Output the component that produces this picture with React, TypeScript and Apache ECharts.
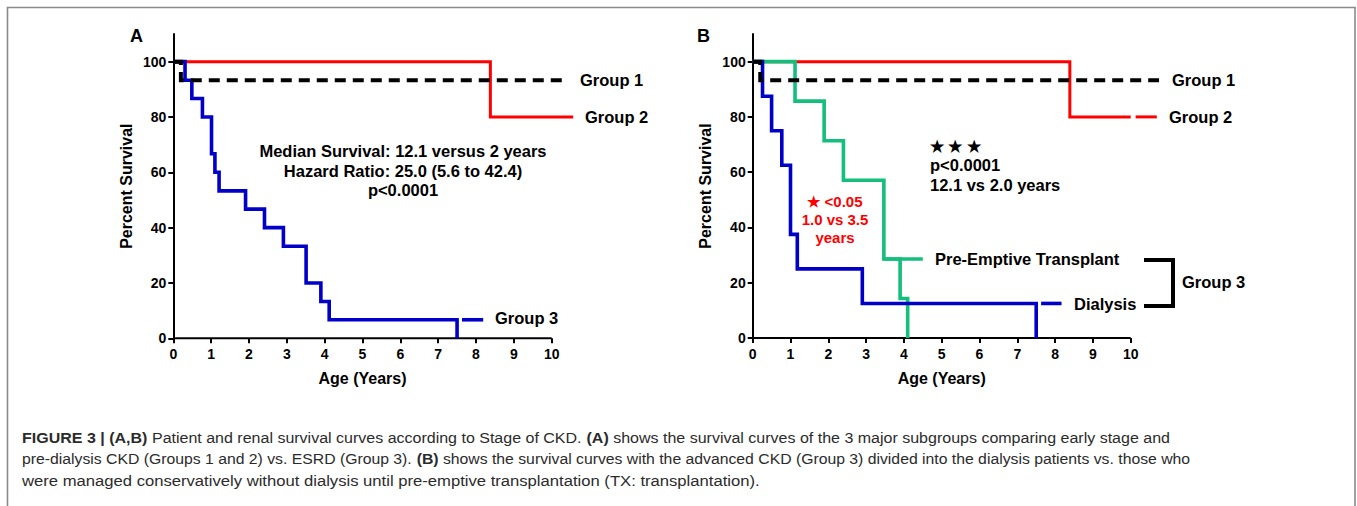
import React, { useEffect, useRef } from "react";
import * as echarts from "echarts";

// ---------- data ----------
const xTickValues = [0, 1, 2, 3, 4, 5, 6, 7, 8, 9, 10];
const yTickValues = [0, 20, 40, 60, 80, 100];
const xAxisExtent = [0, 10];

// Panel A
const aGroup1Times = [0, 0.2];
const aGroup1Surv = [100, 93.3];
const aGroup1End = 10.42;
const aGroup2Times = [0, 8.38];
const aGroup2Surv = [100, 80];
const aGroup2End = 10.57;
const aGroup3Times = [0, 0.31, 0.49, 0.77, 1.01, 1.1, 1.21, 1.91, 2.41, 2.91, 3.51, 3.9, 4.12, 7.5];
const aGroup3Surv = [100, 93.3, 86.7, 80, 66.7, 60, 53.3, 46.7, 40, 33.3, 20, 13.3, 6.7, 0];
const aGroup3Key = [7.63, 8.19];
const aGroup3KeyValue = 6.7;

// Panel B
const bGroup1Times = [0, 0.2];
const bGroup1Surv = [100, 93.3];
const bGroup1End = 10.75;
const bGroup2Times = [0, 8.39];
const bGroup2Surv = [100, 80];
const bGroup2End = 10.0;
const bGroup2Key = [10.13, 10.69];
const bDialysisTimes = [0, 0.26, 0.5, 0.77, 1.0, 1.18, 2.9, 7.5];
const bDialysisSurv = [100, 87.5, 75, 62.5, 37.5, 25, 12.5, 0];
const bDialysisKey = [7.63, 8.17];
const bDialysisKeyValue = 12.5;
const bTransplantTimes = [0, 1.12, 1.89, 2.4, 3.47, 3.9, 4.1];
const bTransplantSurv = [100, 85.7, 71.4, 57.1, 28.6, 14.3, 0];
const bTransplantKey = [3.47, 4.5];
const bTransplantKeyValue = 28.6;

// ---------- helpers ----------
function km(times: number[], surv: number[], end?: number) {
  const pts: number[][] = [[times[0], surv[0]]];
  for (let i = 1; i < times.length; i++) {
    pts.push([times[i], surv[i - 1]], [times[i], surv[i]]);
  }
  if (end != null) pts.push([end, surv[surv.length - 1]]);
  return pts;
}
function seg(range: number[], v: number) {
  return [[range[0], v], [range[1], v]];
}

const RED = "#ff0000";
const BLUE = "#0000c8";
const GREEN = "#14bf7c";
const BLACK = "#000000";
const FONT = "'Liberation Sans', Arial, Helvetica, sans-serif";

function line(idx: number, data: number[][], color: string, width: number, dashed = false, z = 2) {
  return {
    type: "line",
    xAxisIndex: idx,
    yAxisIndex: idx,
    data,
    symbol: "none",
    showSymbol: false,
    clip: false,
    z,
    silent: true,
    lineStyle: { color, width, type: dashed ? [11, 7] : "solid", cap: "butt", join: "miter" },
  };
}

function axesFor(idx: number) {
  const tick = { show: true, length: 5, inside: false, lineStyle: { color: BLACK, width: 2 } };
  return {
    x: {
      gridIndex: idx,
      type: "value",
      min: 0,
      max: 11,
      axisLine: { show: false },
      splitLine: { show: false },
      axisTick: { ...tick, customValues: xTickValues },
      axisLabel: {
        color: BLACK,
        fontFamily: FONT,
        fontWeight: "bold",
        fontSize: 14,
        margin: 9,
        customValues: xTickValues,
      },
    },
    y: {
      gridIndex: idx,
      type: "value",
      min: 0,
      max: 110,
      axisLine: { show: true, onZero: false, lineStyle: { color: BLACK, width: 2 } },
      splitLine: { show: false },
      name: "Percent Survival",
      nameLocation: "middle",
      nameGap: 39,
      nameTextStyle: { color: BLACK, fontFamily: FONT, fontWeight: "bold", fontSize: 16 },
      axisTick: { ...tick, customValues: yTickValues },
      axisLabel: {
        color: BLACK,
        fontFamily: FONT,
        fontWeight: "bold",
        fontSize: 14,
        margin: 7,
        customValues: yTickValues,
      },
    },
  };
}

function txt(x: number, y: number, text: string, opts: any = {}) {
  return {
    type: "text",
    x,
    y,
    silent: true,
    z: 10,
    style: {
      text,
      fill: opts.color || BLACK,
      fontFamily: FONT,
      fontWeight: opts.weight || "bold",
      fontSize: opts.size || 16.5,
      textAlign: opts.align || "left",
      textVerticalAlign: "middle",
    },
  };
}

export default function App() {
  const ref = useRef<HTMLDivElement>(null);
  useEffect(() => {
    if (!ref.current) return;
    const chart = echarts.init(ref.current, null, { renderer: "svg" });
    const A = axesFor(0);
    const B = axesFor(1);
    const CAP = "#2b2b2b";
    const captionRich = {
      b: { fontWeight: "bold", fontSize: 15, fontFamily: FONT, color: CAP },
    };
    const capStyle = (t: string, y: number, sx: number) => ({
      type: "text",
      x: 22,
      y,
      scaleX: sx,
      silent: true,
      style: {
        text: t,
        fill: CAP,
        fontFamily: FONT,
        fontWeight: "normal",
        fontSize: 15,
        textAlign: "left",
        textVerticalAlign: "middle",
        rich: captionRich,
      },
    });
    chart.setOption({
      animation: false,
      backgroundColor: "#ffffff",
      grid: [
        { left: 173.3, top: 34, width: 416.2, height: 304.3, containLabel: false },
        { left: 752.7, top: 34, width: 415.8, height: 304, containLabel: false },
      ],
      xAxis: [A.x, B.x],
      yAxis: [A.y, B.y],
      series: [
        // x axis lines (0..10)
        line(0, seg(xAxisExtent, 0), BLACK, 2, false, 1),
        line(1, seg(xAxisExtent, 0), BLACK, 2, false, 1),
        // Panel A
        line(0, km(aGroup2Times, aGroup2Surv, aGroup2End), RED, 3),
        line(0, km(aGroup3Times, aGroup3Surv), BLUE, 3.6),
        line(0, seg(aGroup3Key, aGroup3KeyValue), BLUE, 3.6),
        line(0, km(aGroup1Times, aGroup1Surv, aGroup1End), BLACK, 4, true, 3),
        // Panel B
        line(1, km(bGroup2Times, bGroup2Surv, bGroup2End), RED, 3),
        line(1, seg(bGroup2Key, 80), RED, 3),
        line(1, km(bTransplantTimes, bTransplantSurv), GREEN, 3.6),
        line(1, seg(bTransplantKey, bTransplantKeyValue), GREEN, 3.6),
        line(1, km(bDialysisTimes, bDialysisSurv), BLUE, 3.6),
        line(1, seg(bDialysisKey, bDialysisKeyValue), BLUE, 3.6),
        line(1, km(bGroup1Times, bGroup1Surv, bGroup1End), BLACK, 4, true, 3),
      ],
      graphic: [
        {
          type: "rect",
          silent: true,
          shape: { x: 7.5, y: 7.5, width: 1347.5, height: 520 },
          style: { fill: "none", stroke: "#8a8a8a", lineWidth: 1.6 },
        },
        txt(130, 36, "A", { size: 18 }),
        txt(697, 36, "B", { size: 18 }),
        txt(362.5, 378, "Age (Years)", { align: "center", size: 16 }),
        txt(941.7, 378, "Age (Years)", { align: "center", size: 16 }),
        // Panel A annotations
        txt(403, 151, "Median Survival: 12.1 versus 2 years", { align: "center" }),
        txt(403, 171, "Hazard Ratio: 25.0 (5.6 to 42.4)", { align: "center" }),
        txt(403, 190, "p<0.0001", { align: "center" }),
        txt(580, 80, "Group 1"),
        txt(585, 117, "Group 2"),
        txt(495, 318, "Group 3"),
        // Panel B annotations
        txt(930, 146, "\u2605 \u2605 \u2605", { size: 16 }),
        txt(930, 165, "p<0.0001"),
        txt(930, 185, "12.1 vs 2.0 years"),
        txt(835, 201, "\u2605 <0.05", { align: "center", color: RED, size: 15 }),
        txt(835, 219, "1.0 vs 3.5", { align: "center", color: RED, size: 15 }),
        txt(835, 237, "years", { align: "center", color: RED, size: 15 }),
        txt(935, 259, "Pre-Emptive Transplant"),
        txt(1074, 304, "Dialysis"),
        txt(1182, 282, "Group 3"),
        txt(1172, 80, "Group 1"),
        txt(1169, 117, "Group 2"),
        {
          type: "polyline",
          silent: true,
          shape: { points: [[1144, 260], [1173, 260], [1173, 306], [1144, 306]] },
          style: { fill: "none", stroke: BLACK, lineWidth: 4, lineJoin: "miter" },
        },
        // Caption
        capStyle(
          "{b|FIGURE 3 | (A,B)} Patient and renal survival curves according to Stage of CKD. {b|(A)} shows the survival curves of the 3 major subgroups comparing early stage and",
          438,
          1.068
        ),
        capStyle(
          "pre-dialysis CKD (Groups 1 and 2) vs. ESRD (Group 3). {b|(B)} shows the survival curves with the advanced CKD (Group 3) divided into the dialysis patients vs. those who",
          459,
          1.052
        ),
        capStyle(
          "were managed conservatively without dialysis until pre-emptive transplantation (TX: transplantation).",
          480.5,
          1.11
        ),
      ],
    });
    return () => chart.dispose();
  }, []);
  return (
    <div
      ref={ref}
      style={{ position: "fixed", left: 0, top: 0, width: 1357, height: 506, background: "#fff" }}
    />
  );
}
